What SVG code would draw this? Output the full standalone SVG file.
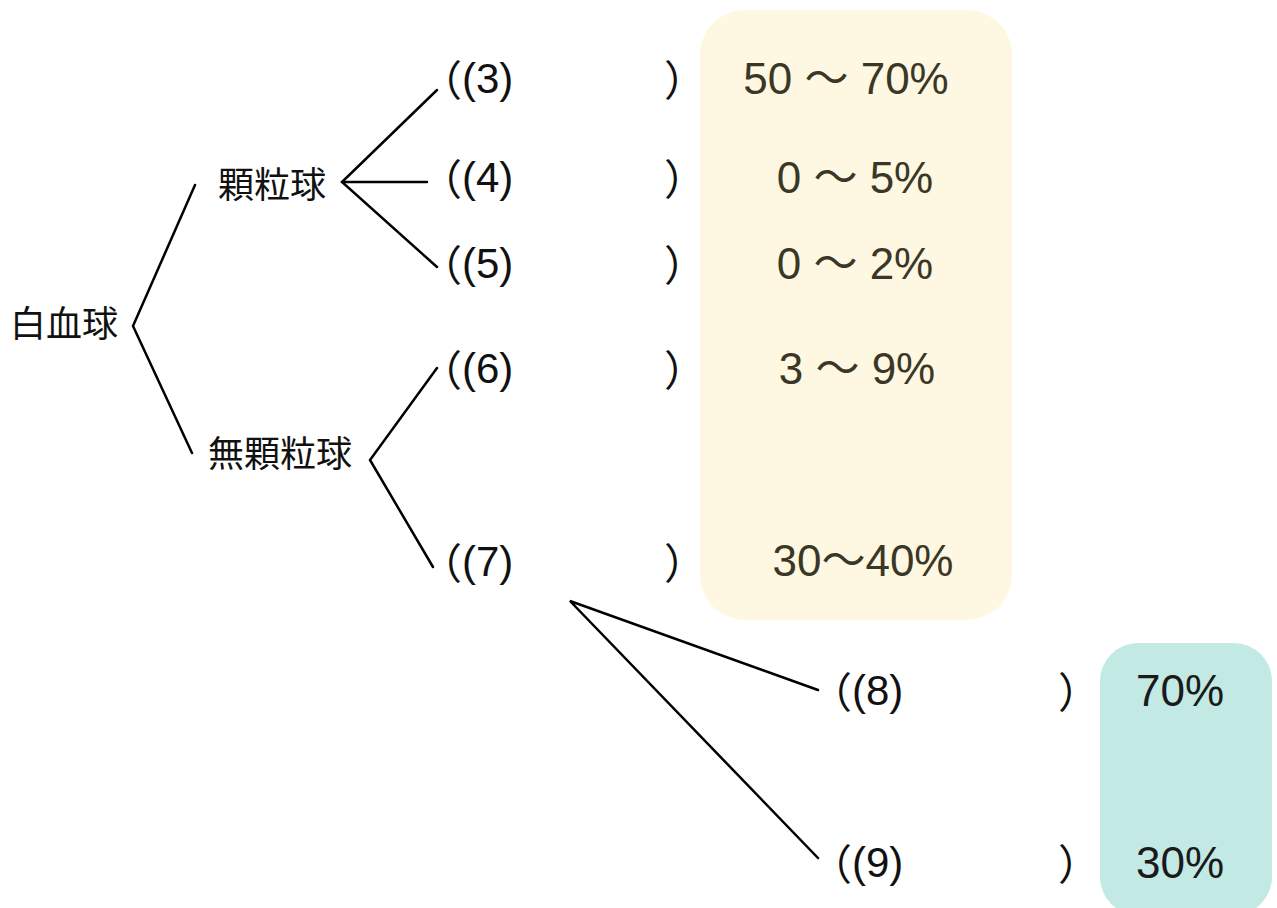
<svg xmlns="http://www.w3.org/2000/svg" width="1277" height="908" viewBox="0 0 1277 908">
<style>
.jp{font-family:"Noto Sans CJK JP","Liberation Sans",sans-serif;font-size:36px;fill:#111}
.lb{font-family:"Liberation Sans","Noto Sans CJK JP",sans-serif;font-size:42px;fill:#111}
.pc{font-family:"Liberation Sans","Noto Sans CJK JP",sans-serif;font-size:44px;fill:#3b3727;text-anchor:middle}
.pk{font-family:"Liberation Sans","Noto Sans CJK JP",sans-serif;font-size:44px;fill:#1a1a1a;text-anchor:middle}
.ln{stroke:#000;stroke-width:2.5;fill:none;stroke-linecap:round;stroke-linejoin:miter}
</style>
<rect width="1277" height="908" fill="#fff"/>
<g id="box-yellow"><rect x="700" y="10" width="312" height="610" rx="45" fill="#fef7e1"/></g>
<g id="box-teal"><rect x="1100" y="643" width="172" height="272" rx="38" fill="#c2e9e4"/></g>
<g id="connectors">
<polyline class="ln" points="195,185 133,326 192,453"/>
<polyline class="ln" points="437,90 342,182 437,267"/>
<line class="ln" x1="342" y1="182" x2="427" y2="182"/>
<polyline class="ln" points="437,368 370,460 433,567"/>
<polyline class="ln" points="818,690 570,601 818,858"/>
</g>
<g id="node-wbc"><text class="jp" x="10" y="337">白血球</text></g>
<g id="node-gran"><text class="jp" x="218" y="198">顆粒球</text></g>
<g id="node-agran"><text class="jp" x="208" y="467">無顆粒球</text></g>
<g id="node-3"><text class="lb" x="420" y="93"><tspan dy="3">（</tspan><tspan dy="-3">(3)</tspan></text><text class="lb" x="664" y="96">）</text><text class="pc" x="846" y="94">50 ～ 70%</text></g>
<g id="node-4"><text class="lb" x="420" y="192"><tspan dy="3">（</tspan><tspan dy="-3">(4)</tspan></text><text class="lb" x="664" y="195">）</text><text class="pc" x="855" y="193">0 ～ 5%</text></g>
<g id="node-5"><text class="lb" x="420" y="278"><tspan dy="3">（</tspan><tspan dy="-3">(5)</tspan></text><text class="lb" x="664" y="281">）</text><text class="pc" x="855" y="279">0 ～ 2%</text></g>
<g id="node-6"><text class="lb" x="420" y="383"><tspan dy="3">（</tspan><tspan dy="-3">(6)</tspan></text><text class="lb" x="664" y="386">）</text><text class="pc" x="857" y="384">3 ～ 9%</text></g>
<g id="node-7"><text class="lb" x="420" y="576"><tspan dy="3">（</tspan><tspan dy="-3">(7)</tspan></text><text class="lb" x="664" y="579">）</text><text class="pc" x="863" y="576">30～40%</text></g>
<g id="node-8"><text class="lb" x="810" y="705"><tspan dy="3">（</tspan><tspan dy="-3">(8)</tspan></text><text class="lb" x="1058" y="708">）</text><text class="pk" x="1180" y="706">70%</text></g>
<g id="node-9"><text class="lb" x="810" y="877"><tspan dy="3">（</tspan><tspan dy="-3">(9)</tspan></text><text class="lb" x="1058" y="880">）</text><text class="pk" x="1180" y="878">30%</text></g>
</svg>
